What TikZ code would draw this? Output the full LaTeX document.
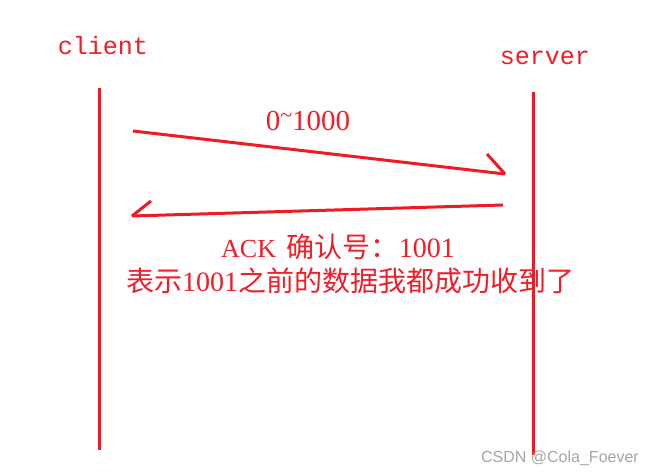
\documentclass[tikz,border=0pt]{standalone}
\usepackage{fontspec}
\setmainfont{Liberation Serif}
\setsansfont{Liberation Sans}
\newfontfamily\monof{Liberation Mono}
\newfontfamily\cjk{Noto Sans CJK SC}
\newfontfamily\serf{Liberation Serif}
\definecolor{pred}{HTML}{ED1C24}
\definecolor{tred}{HTML}{F01E28}
\begin{document}
\begin{tikzpicture}[x=1pt,y=-1pt,
  lifeline/.style={draw=pred,line width=3pt},
  msg/.style={draw=pred,line width=3pt},
  actor/.style={text=tred,font=\monof\fontsize{25}{28}\selectfont,inner sep=0pt},
  lbl/.style={text=tred,inner sep=0pt}]
\useasboundingbox (0,0) rectangle (651,476);
\fill[white] (0,0) rectangle (651,476);
% actors
\node[actor] (client) at (103,46) {client};
\node[actor] (server) at (545,58) {server};
% lifelines
\coordinate (c1) at (99,88);
\coordinate (c2) at (99,450);
\coordinate (s1) at (533,92);
\coordinate (s2) at (533,455);
\draw[lifeline] (c1) -- (c2);
\draw[lifeline] (s1) -- (s2);
% message 1
\coordinate (m1a) at (133,131);
\coordinate (m1b) at (505,174);
\coordinate (m1h) at (487,154);
\draw[msg] (m1a) -- (m1b);
\draw[msg] (m1h) -- (m1b);
\node[lbl,font=\fontsize{29}{31}\selectfont] (l1) at (308,121) {0\raisebox{0.28em}{\fontsize{22}{24}\selectfont\textasciitilde}1000};
% message 2
\coordinate (m2a) at (503,205);
\coordinate (m2b) at (132,216);
\coordinate (m2h) at (151,201);
\draw[msg] (m2a) -- (m2b);
\draw[msg] (m2h) -- (m2b);
\node[lbl,font=\cjk\fontsize{28}{30}\selectfont] (l2) at (338,247) {{\serf\fontsize{26}{28}\selectfont ACK\ \,}确认号：{\serf\fontsize{28}{30}\selectfont 1001}};
\node[lbl,font=\cjk\fontsize{28}{30}\selectfont] (l3) at (350,281) {表示{\serf\fontsize{28}{30}\selectfont 1001}之前的数据我都成功收到了};
% watermark
\node[text=gray!70,font=\sffamily\fontsize{16}{18}\selectfont,inner sep=0pt] (wm) at (560,458) {CSDN @Cola\_Foever};
\end{tikzpicture}
\end{document}
